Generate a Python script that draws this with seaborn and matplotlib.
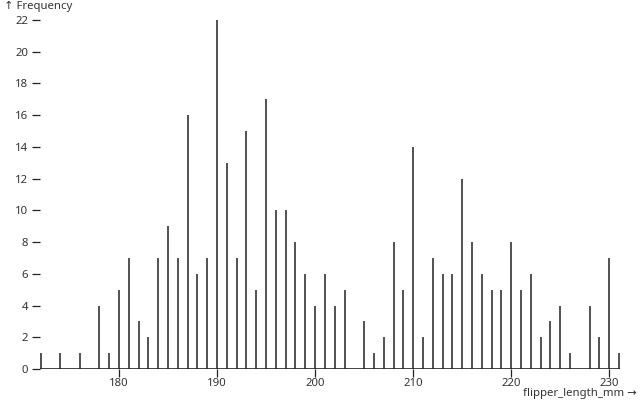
import matplotlib
matplotlib.use("Agg")
import matplotlib.pyplot as plt
import seaborn as sns

# flipper length (mm) and how many penguins have it
lengths = [172, 174, 176, 178, 179, 180, 181, 182, 183, 184, 185, 186, 187, 188, 189,
           190, 191, 192, 193, 194, 195, 196, 197, 198, 199, 200, 201, 202, 203,
           205, 206, 207, 208, 209, 210, 211, 212, 213, 214, 215, 216, 217, 218, 219,
           220, 221, 222, 223, 224, 225, 226, 228, 229, 230, 231]
counts = [1, 1, 1, 4, 1, 5, 7, 3, 2, 7, 9, 7, 16, 6, 7,
          22, 13, 7, 15, 5, 17, 10, 10, 8, 6, 4, 6, 4, 5,
          3, 1, 2, 8, 5, 14, 2, 7, 6, 6, 12, 8, 6, 5, 5,
          8, 5, 6, 2, 3, 4, 1, 4, 2, 7, 1]
y_ticks = list(range(0, 23, 2))
x_ticks = [180, 190, 200, 210, 220, 230]

sns.set_theme(style="white")
plt.rcParams['font.family'] = ['Noto Sans', 'DejaVu Sans']

fig = plt.figure(figsize=(6.4, 4), dpi=100)
ax = fig.add_axes([40 / 640, 31 / 400, 580 / 640, 349 / 400])

ax.vlines(lengths, 0, counts, color="#222222", linewidth=1.1)
ax.axhline(0, color="#222222", linewidth=1.2)

ax.set_xlim(171.94, 231.1)
ax.set_ylim(0, 22)
ax.set_yticks(y_ticks)
ax.set_xticks(x_ticks)
sns.despine(ax=ax, left=True, bottom=True)
ax.tick_params(axis="both", length=6, width=0.9, color="#222222", labelsize=8.2,
               labelcolor="#333333")
ax.tick_params(axis="y", left=True, pad=2.5)
ax.tick_params(axis="x", bottom=True, pad=0.5)
ax.grid(False)

fig.text(4 / 640, 1 - 6 / 400, "↑ Frequency", fontsize=8.2, color="#333333",
         ha="left", va="center")
fig.text(637 / 640, 1 - 399 / 400, "flipper_length_mm →", fontsize=8.2, color="#333333",
         ha="right", va="bottom")

fig.savefig("out.png", dpi=100)
